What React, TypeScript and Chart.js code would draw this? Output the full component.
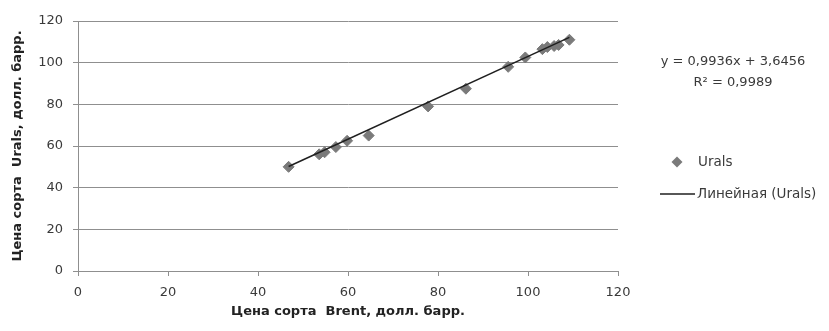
import React, { useEffect, useRef } from "react";
import { Chart, registerables } from "chart.js";

Chart.register(...registerables);

// Data
const brentPrices = [46.8, 53.6, 54.8, 57.3, 59.8, 64.6, 77.8, 86.2, 95.6, 99.4, 103.2, 104.3, 105.8, 106.8, 109.2];
const uralsPrices = [50, 56, 57, 59.5, 62.5, 65, 79, 87.5, 98, 102.5, 106.5, 107.5, 108, 108.5, 111];
const trendSlope = 0.9936;
const trendIntercept = 3.6456;
const equationLabel = "y = 0,9936x + 3,6456";
const r2Label = "R² = 0,9989";
const seriesLabel = "Urals";
const trendLabel = "Линейная (Urals)";
const xTitle = "Цена сорта  Brent, долл. барр.";
const yTitle = "Цена сорта  Urals, долл. барр.";
const axisMin = 0;
const axisMax = 120;
const axisStep = 20;

const FONT = "'DejaVu Sans', sans-serif";
const TEXT = "#3a3a3a";
const GRID = "#8f8f8f";
const MARK = "#7a7a7a";
const LINE = "#1f1f1f";

const legendPlugin = {
  id: "customLegend",
  afterDraw(chart: any) {
    const ctx = chart.ctx;
    ctx.save();
    ctx.fillStyle = TEXT;
    ctx.font = `13px ${FONT}`;
    ctx.textAlign = "center";
    ctx.textBaseline = "middle";
    ctx.fillText(equationLabel, 733, 62);
    ctx.fillText(r2Label, 733, 83);

    ctx.font = `13.5px ${FONT}`;
    // series entry
    ctx.fillStyle = MARK;
    ctx.beginPath();
    const cx = 677, cy = 162, r = 5.5;
    ctx.moveTo(cx, cy - r);
    ctx.lineTo(cx + r, cy);
    ctx.lineTo(cx, cy + r);
    ctx.lineTo(cx - r, cy);
    ctx.closePath();
    ctx.fill();
    ctx.fillStyle = TEXT;
    ctx.textAlign = "left";
    ctx.fillText(seriesLabel, 698, 162);

    // trend entry
    ctx.strokeStyle = LINE;
    ctx.lineWidth = 1.5;
    ctx.beginPath();
    ctx.moveTo(660, 194);
    ctx.lineTo(695, 194);
    ctx.stroke();
    ctx.fillText(trendLabel, 697, 194);
    ctx.restore();
  },
};

export default function App() {
  const ref = useRef<HTMLCanvasElement | null>(null);

  useEffect(() => {
    document.body.style.margin = "0";
    const canvas = ref.current;
    if (!canvas) return;
    const xMinData = Math.min(...brentPrices);
    const xMaxData = Math.max(...brentPrices);
    const points = brentPrices.map((x, i) => ({ x, y: uralsPrices[i] }));
    const trend = [
      { x: xMinData, y: trendSlope * xMinData + trendIntercept },
      { x: xMaxData, y: trendSlope * xMaxData + trendIntercept },
    ];

    const chart = new Chart(canvas, {
      type: "scatter",
      data: {
        datasets: [
          {
            label: seriesLabel,
            data: points,
            pointStyle: "rectRot",
            pointRadius: 5.5,
            pointBackgroundColor: MARK,
            pointBorderColor: MARK,
            pointBorderWidth: 1,
            showLine: false,
            order: 2,
          },
          {
            label: trendLabel,
            data: trend,
            showLine: true,
            borderColor: LINE,
            borderWidth: 1.5,
            pointRadius: 0,
            order: 1,
          },
        ],
      },
      options: {
        responsive: false,
        animation: false,
        layout: { padding: { top: 21, right: 211, bottom: 0, left: 0 } },
        plugins: {
          legend: { display: false },
          tooltip: { enabled: false },
        },
        scales: {
          x: {
            type: "linear",
            min: axisMin,
            max: axisMax,
            ticks: { stepSize: axisStep, color: TEXT, font: { family: FONT, size: 13 }, padding: 9 },
            grid: { drawOnChartArea: false, drawTicks: true, tickLength: 5, color: GRID },
            border: { display: true, color: GRID, width: 1 },
            title: {
              display: true,
              text: xTitle,
              color: "#222",
              font: { family: FONT, size: 13, weight: "bold" },
              padding: { top: 0, bottom: 12 },
            },
            afterFit: (s: any) => { s.height = 60; },
          },
          y: {
            type: "linear",
            min: axisMin,
            max: axisMax,
            ticks: { stepSize: axisStep, color: TEXT, font: { family: FONT, size: 13 }, padding: 10 },
            grid: { color: GRID, drawTicks: true, tickLength: 5 },
            border: { display: true, color: GRID, width: 1 },
            title: {
              display: true,
              text: yTitle,
              color: "#222",
              font: { family: FONT, size: 13, weight: "bold" },
              padding: { top: 10, bottom: 0 },
            },
            afterFit: (s: any) => { s.width = 78; },
          },
        },
      },
      plugins: [legendPlugin],
    });
    return () => chart.destroy();
  }, []);

  return (
    <div style={{ width: 829, height: 331, background: "#fff" }}>
      <canvas ref={ref} width={829} height={331} style={{ display: "block" }} />
    </div>
  );
}
